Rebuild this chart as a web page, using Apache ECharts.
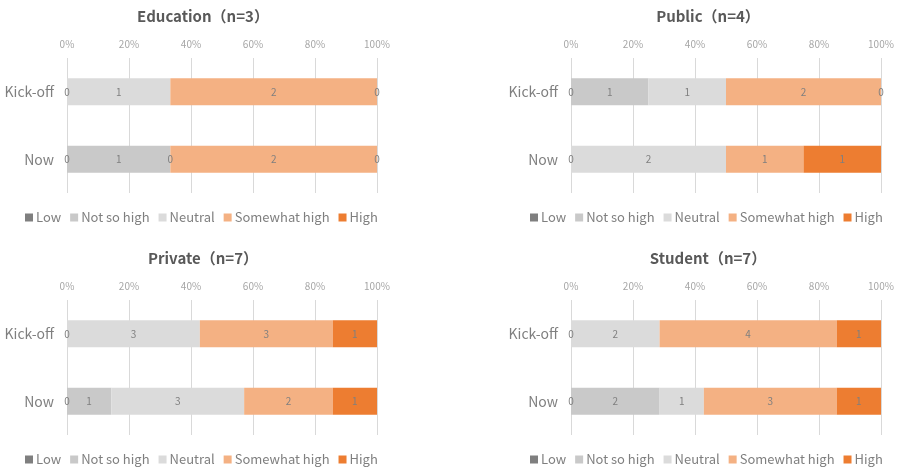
<!DOCTYPE html>
<html>
<head>
<meta charset="utf-8">
<script src="https://cdn.jsdelivr.net/npm/echarts@6/dist/echarts.min.js"></script>
<style>
  html, body { margin: 0; padding: 0; background: #fff; }
  #chart { width: 897px; height: 471px; }
</style>
</head>
<body>
<div id="chart"></div>
<script>
// Response levels (stack order, left to right)
const levels = ['Low', 'Not so high', 'Neutral', 'Somewhat high', 'High'];
const levelColors = ['#7f7f7f', '#c9c9c9', '#dbdbdb', '#f4b183', '#ed7d31'];
const rows = ['Kick-off', 'Now'];
const percentTicks = [0, 20, 40, 60, 80, 100];

// Respondent counts per level; null = no entry for that level
const educationKickoff = [0, null, 1, 2, 0];
const educationNow     = [0, 1, 0, 2, 0];
const publicKickoff    = [0, 1, 1, 2, 0];
const publicNow        = [0, null, 2, 1, 1];
const privateKickoff   = [0, null, 3, 3, 1];
const privateNow       = [0, 1, 3, 2, 1];
const studentKickoff   = [0, null, 2, 4, 1];
const studentNow       = [0, 2, 1, 3, 1];

const groupNames = ['Education', 'Public', 'Private', 'Student'];
const groupSizes = [3, 4, 7, 7];
const groupCounts = [
  [educationKickoff, educationNow],
  [publicKickoff, publicNow],
  [privateKickoff, privateNow],
  [studentKickoff, studentNow]
];

// Panel placement: grid origin, title center x, legend left edge
const panels = [
  { left: 67,  top: 58,  titleX: 198, legendLeft: 25 },
  { left: 571, top: 58,  titleX: 703, legendLeft: 530 },
  { left: 67,  top: 300, titleX: 198, legendLeft: 25 },
  { left: 571, top: 300, titleX: 703, legendLeft: 530 }
];

const FONT = '"Noto Sans CJK JP", "Noto Sans", sans-serif';

const option = {
  backgroundColor: '#fff',
  animation: false,
  textStyle: { fontFamily: FONT },
  title: [], grid: [], xAxis: [], yAxis: [], legend: [], series: []
};

panels.forEach((p, gi) => {
  option.title.push({
    text: groupNames[gi] + '（n=' + groupSizes[gi] + '）',
    left: p.titleX,
    top: p.top - 54,
    textAlign: 'center',
    textStyle: { fontSize: 15, fontWeight: 'bold', color: '#595959', fontFamily: FONT }
  });
  option.grid.push({ left: p.left, top: p.top, width: 310, height: 135, containLabel: false });
  option.xAxis.push({
    gridIndex: gi,
    type: 'value',
    position: 'top',
    min: 0, max: 100, interval: 20,
    axisLine: { show: false },
    axisTick: { show: false },
    splitLine: { show: true, lineStyle: { color: '#d9d9d9', width: 1 } },
    axisLabel: {
      margin: 9,
      fontSize: 10,
      color: '#a6a6a6',
      fontFamily: FONT,
      formatter: v => (percentTicks.indexOf(v) >= 0 ? v + '%' : '')
    }
  });
  option.yAxis.push({
    gridIndex: gi,
    type: 'category',
    data: rows,
    inverse: true,
    axisLine: { show: false },
    axisTick: { show: false },
    axisLabel: { margin: 13, fontSize: 14, color: '#7f7f7f', fontFamily: FONT }
  });
  option.legend.push({
    data: levels,
    left: p.legendLeft,
    top: p.top + 153,
    padding: [0, 0, 0, 0],
    icon: 'rect',
    itemWidth: 8,
    itemHeight: 8,
    itemGap: 9,
    selectedMode: false,
    textStyle: { fontSize: 13, color: '#7f7f7f', fontFamily: FONT, padding: [0, 0, 0, -2] }
  });

  const counts = groupCounts[gi];
  const n = groupSizes[gi];
  levels.forEach((lvl, li) => {
    option.series.push({
      type: 'bar',
      name: lvl,
      xAxisIndex: gi,
      yAxisIndex: gi,
      stack: 'g' + gi,
      barWidth: 27,
      itemStyle: { color: levelColors[li] },
      data: counts.map(row => (row[li] === null ? null : row[li] / n * 100)),
      label: {
        show: true,
        position: 'inside',
        fontSize: 10,
        color: '#7f7f7f',
        fontFamily: FONT,
        formatter: prm => String(counts[prm.dataIndex][li])
      }
    });
  });
});

const chart = echarts.init(document.getElementById('chart'), null, { renderer: 'canvas' });
chart.setOption(option);
</script>
</body>
</html>
